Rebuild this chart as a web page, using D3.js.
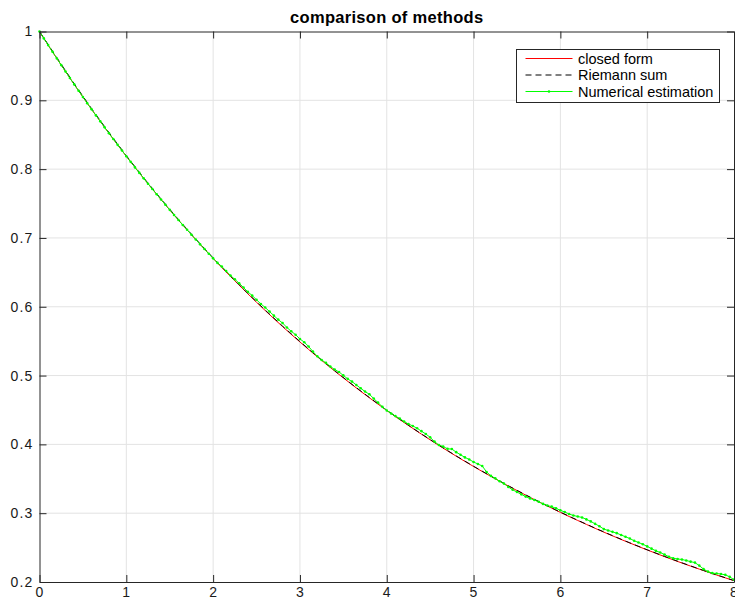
<!DOCTYPE html>
<html>
<head>
<meta charset="utf-8">
<script src="https://cdn.jsdelivr.net/npm/d3@7"></script>
<style>
  body { margin: 0; background: #fff; }
  svg { font-family: "Liberation Sans", Arial, Helvetica, sans-serif; }
</style>
</head>
<body>
<svg id="chart" width="735" height="601"></svg>
<script>
// closed form, sampled every 0.1
const closedX = d3.range(0, 81).map(i => i / 10);
const closedY = [1.0000,0.9802,0.9608,0.9418,0.9231,0.9048,0.8869,0.8694,0.8521,0.8353,
  0.8187,0.8025,0.7866,0.7711,0.7558,0.7408,0.7261,0.7118,0.6977,0.6839,
  0.6703,0.6570,0.6440,0.6313,0.6188,0.6065,0.5945,0.5827,0.5712,0.5599,
  0.5488,0.5379,0.5273,0.5169,0.5066,0.4966,0.4868,0.4771,0.4677,0.4584,
  0.4493,0.4404,0.4317,0.4232,0.4148,0.4066,0.3985,0.3906,0.3829,0.3753,
  0.3679,0.3606,0.3535,0.3465,0.3396,0.3329,0.3263,0.3198,0.3135,0.3073,
  0.3012,0.2952,0.2894,0.2837,0.2780,0.2725,0.2671,0.2618,0.2567,0.2516,
  0.2466,0.2417,0.2369,0.2322,0.2276,0.2231,0.2187,0.2144,0.2101,0.2060,0.2019];

// Riemann sum, every 0.2
const riemannX = d3.range(0, 41).map(i => i / 5);
const riemannY = [1.0000,0.9619,0.9241,0.8879,0.8531,0.8196,0.7874,0.7566,0.7269,0.6984,
  0.6710,0.6447,0.6194,0.5951,0.5718,0.5494,0.5278,0.5071,0.4872,0.4681,
  0.4497,0.4321,0.4151,0.3989,0.3832,0.3682,0.3538,0.3399,0.3266,0.3138,
  0.3015,0.2897,0.2783,0.2674,0.2569,0.2468,0.2372,0.2279,0.2189,0.2103,0.2021];

// numerical estimation, every 0.05
const numX = d3.range(0, 161).map(i => i / 20);
const numY = [1.0000,0.9900,0.9802,0.9704,0.9608,0.9512,0.9418,0.9324,0.9231,0.9139,
  0.9048,0.8958,0.8869,0.8781,0.8694,0.8607,0.8521,0.8437,0.8353,0.8270,
  0.8187,0.8106,0.8025,0.7945,0.7866,0.7788,0.7711,0.7634,0.7558,0.7483,
  0.7408,0.7334,0.7261,0.7189,0.7118,0.7047,0.6977,0.6907,0.6839,0.6771,
  0.6703,0.6637,0.6585,0.6520,0.6455,0.6398,0.6342,0.6279,0.6217,0.6162,
  0.6101,0.6041,0.5989,0.5930,0.5871,0.5813,0.5763,0.5699,0.5643,0.5594,
  0.5532,0.5485,0.5423,0.5348,0.5280,0.5227,0.5184,0.5132,0.5088,0.5052,
  0.5002,0.4952,0.4912,0.4863,0.4815,0.4768,0.4728,0.4666,0.4606,0.4545,
  0.4493,0.4449,0.4411,0.4375,0.4332,0.4296,0.4268,0.4234,0.4192,0.4151,
  0.4102,0.4040,0.3992,0.3968,0.3935,0.3932,0.3887,0.3849,0.3811,0.3781,
  0.3744,0.3715,0.3686,0.3599,0.3542,0.3506,0.3465,0.3430,0.3381,0.3340,
  0.3307,0.3274,0.3241,0.3215,0.3191,0.3166,0.3135,0.3111,0.3095,0.3071,
  0.3041,0.3018,0.2988,0.2967,0.2952,0.2938,0.2910,0.2881,0.2845,0.2811,
  0.2769,0.2749,0.2729,0.2710,0.2683,0.2657,0.2632,0.2599,0.2574,0.2549,
  0.2517,0.2485,0.2453,0.2429,0.2398,0.2368,0.2344,0.2335,0.2327,0.2312,
  0.2296,0.2282,0.2238,0.2187,0.2151,0.2129,0.2123,0.2116,0.2104,0.2075,0.2034];

const xTicks = [0, 1, 2, 3, 4, 5, 6, 7, 8];
const yTicks = [0.2, 0.3, 0.4, 0.5, 0.6, 0.7, 0.8, 0.9, 1];
const legendLabels = ["closed form", "Riemann sum", "Numerical estimation"];

const margin = {top: 31.5, left: 39.5, right: 1, bottom: 19};
const W = 735, H = 601;
const svg = d3.select('#chart');

const x = d3.scaleLinear().domain([0, 8]).range([margin.left, W - margin.right]);
const y = d3.scaleLinear().domain([0.2, 1]).range([H - margin.bottom, margin.top]);

// grid
const g = svg.append('g');
g.selectAll('.gx').data(xTicks.slice(1, -1)).join('line')
  .attr('x1', d => x(d)).attr('x2', d => x(d)).attr('y1', y(0.2)).attr('y2', y(1))
  .attr('stroke', '#e3e3e3').attr('stroke-width', 1);
g.selectAll('.gy').data(yTicks.slice(1, -1)).join('line')
  .attr('x1', x(0)).attr('x2', x(8)).attr('y1', d => y(d)).attr('y2', d => y(d))
  .attr('stroke', '#e3e3e3').attr('stroke-width', 1);

// series
const line = d3.line().x(d => x(d[0])).y(d => y(d[1]));
svg.append('path').datum(d3.zip(closedX, closedY)).attr('d', line)
  .attr('fill', 'none').attr('stroke', '#ff0000').attr('stroke-width', 1);
svg.append('path').datum(d3.zip(riemannX, riemannY)).attr('d', line)
  .attr('fill', 'none').attr('stroke', '#000').attr('stroke-width', 1).attr('stroke-dasharray', '6,4');
const num = d3.zip(numX, numY);
svg.append('path').datum(num).attr('d', line)
  .attr('fill', 'none').attr('stroke', '#00ff00').attr('stroke-width', 1);
svg.append('g').selectAll('circle').data(num).join('circle')
  .attr('cx', d => x(d[0])).attr('cy', d => y(d[1])).attr('r', 1.3).attr('fill', '#00ff00');

// axes
const axisColor = '#262626';
svg.append('g').attr('transform', `translate(0,${y(0.2)})`)
  .call(d3.axisBottom(x).tickValues(xTicks).tickFormat(d3.format('d')).tickSizeInner(-7).tickSizeOuter(0).tickPadding(5.5));
svg.append('g').attr('transform', `translate(${x(0)},0)`)
  .call(d3.axisLeft(y).tickValues(yTicks).tickFormat(d => d === 1 ? '1' : d3.format('.1f')(d)).tickSizeInner(-7).tickSizeOuter(0).tickPadding(6));
svg.append('g').attr('transform', `translate(0,${y(1)})`)
  .call(d3.axisTop(x).tickValues(xTicks).tickFormat('').tickSizeInner(-7).tickSizeOuter(0));
svg.append('g').attr('transform', `translate(${x(8)},0)`)
  .call(d3.axisRight(y).tickValues(yTicks).tickFormat('').tickSizeInner(-7).tickSizeOuter(0));
svg.selectAll('.domain').attr('stroke', axisColor);
svg.selectAll('.tick line').attr('stroke', axisColor);
svg.selectAll('.tick text').attr('fill', '#1a1a1a').style('font-size', '14px').style('letter-spacing', '1.2px');

// title
svg.append('text').attr('x', (x(0) + x(8)) / 2).attr('y', 22.5).attr('text-anchor', 'middle')
  .style('font-size', '16.5px').style('font-weight', 'bold').style('letter-spacing', '0.3px')
  .attr('fill', '#000').text('comparison of methods');

// legend
const lg = svg.append('g').attr('transform', 'translate(516.5,49.5)');
lg.append('rect').attr('width', 203).attr('height', 53).attr('fill', '#fff').attr('stroke', axisColor);
const styles = [
  {stroke: '#ff0000', dash: null},
  {stroke: '#000', dash: '6,4'},
  {stroke: '#00ff00', dash: null}
];
legendLabels.forEach((lab, i) => {
  const yy = 9 + i * 16.5;
  lg.append('line').attr('x1', 9).attr('x2', 56).attr('y1', yy).attr('y2', yy)
    .attr('stroke', styles[i].stroke).attr('stroke-dasharray', styles[i].dash);
  if (i === 2) lg.append('circle').attr('cx', 32.5).attr('cy', yy).attr('r', 1.3).attr('fill', '#00ff00');
  lg.append('text').attr('x', 61.5).attr('y', yy).attr('dominant-baseline', 'central')
    .style('font-size', '14.5px').attr('fill', '#000').text(lab);
});
</script>
</body>
</html>
